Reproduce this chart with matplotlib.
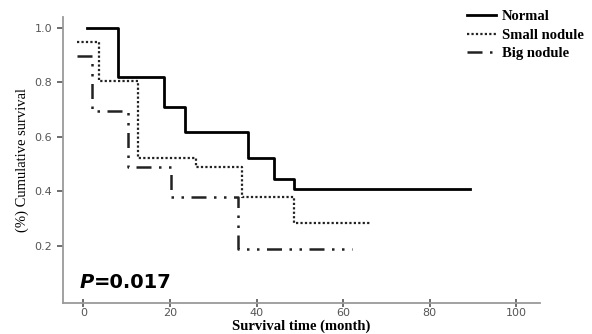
import numpy as np
import matplotlib
matplotlib.use("Agg")
import matplotlib.pyplot as plt

## data (months, cumulative survival)
normal_t = [0.9, 7.9, 18.7, 23.5, 38.0, 44.0, 48.7, 89.3]
normal_s = [1.0, 0.82, 0.71, 0.617, 0.522, 0.445, 0.41, 0.41]

small_t = [-1.5, 3.5, 12.7, 26.0, 36.7, 48.7, 66.2]
small_s = [0.947, 0.805, 0.522, 0.49, 0.381, 0.286, 0.286]

big_t = [-1.5, 1.9, 10.4, 20.2, 35.6, 62.0]
big_s = [0.898, 0.694, 0.49, 0.381, 0.19, 0.19]

xticks = [0, 20, 40, 60, 80, 100]
yticks = [0.2, 0.4, 0.6, 0.8, 1.0]
p_text = "=0.017"

## figure
fig = plt.figure(figsize=(5.92, 3.34), dpi=100)
ax = fig.add_axes([62.7/592, 1 - 302.7/334, (540 - 62.7)/592, (302.7 - 17)/334])

ax.step(normal_t, normal_s, where="post", color="black", lw=2.0, label="Normal")
ax.step(small_t, small_s, where="post", color="#222222", lw=1.6,
        linestyle=(0, (1, 1)), label="Small nodule")
ax.step(big_t, big_s, where="post", color="#222222", lw=1.8,
        linestyle=(0, (6, 3, 1, 3, 1, 3)), label="Big nodule")

ax.set_xlim(-4.8, 105.5)
ax.set_ylim(-0.008, 1.04)
ax.set_xticks(xticks)
ax.set_yticks(yticks)
ax.set_xticklabels([str(v) for v in xticks])
ax.set_yticklabels(["%.1f" % v for v in yticks])

for s in ["top", "right"]:
    ax.spines[s].set_visible(False)
for s in ["left", "bottom"]:
    ax.spines[s].set_color("#9a9a9a")
    ax.spines[s].set_linewidth(1.3)
ax.tick_params(axis="both", colors="#555555", labelsize=8, length=4, width=1.2)
ax.tick_params(axis="x", direction="inout", length=6, pad=1)

ax.set_ylabel("(%) Cumulative survival", fontfamily="Liberation Serif",
              fontsize=10.5)
ax.yaxis.set_label_coords(-0.071, 0.5)
ax.set_xlabel("Survival time (month)", fontfamily="Liberation Serif",
              fontweight="bold", fontsize=10.5, va="center")
ax.xaxis.set_label_coords(0.5, -0.083)

ax.text(-0.8, 0.065, "P", fontstyle="italic", fontweight="bold", fontsize=14,
        fontfamily="DejaVu Sans", va="center")
ax.text(2.4, 0.065, p_text, fontweight="bold", fontsize=14,
        fontfamily="DejaVu Sans", va="center")

leg = ax.legend(loc="upper left", bbox_to_anchor=(0.82, 1.07), frameon=False,
                handlelength=2.0, handletextpad=0.4, labelspacing=0.35,
                prop={"family": "Liberation Serif", "weight": "bold", "size": 10.5})

fig.savefig("out.png", dpi=100)
